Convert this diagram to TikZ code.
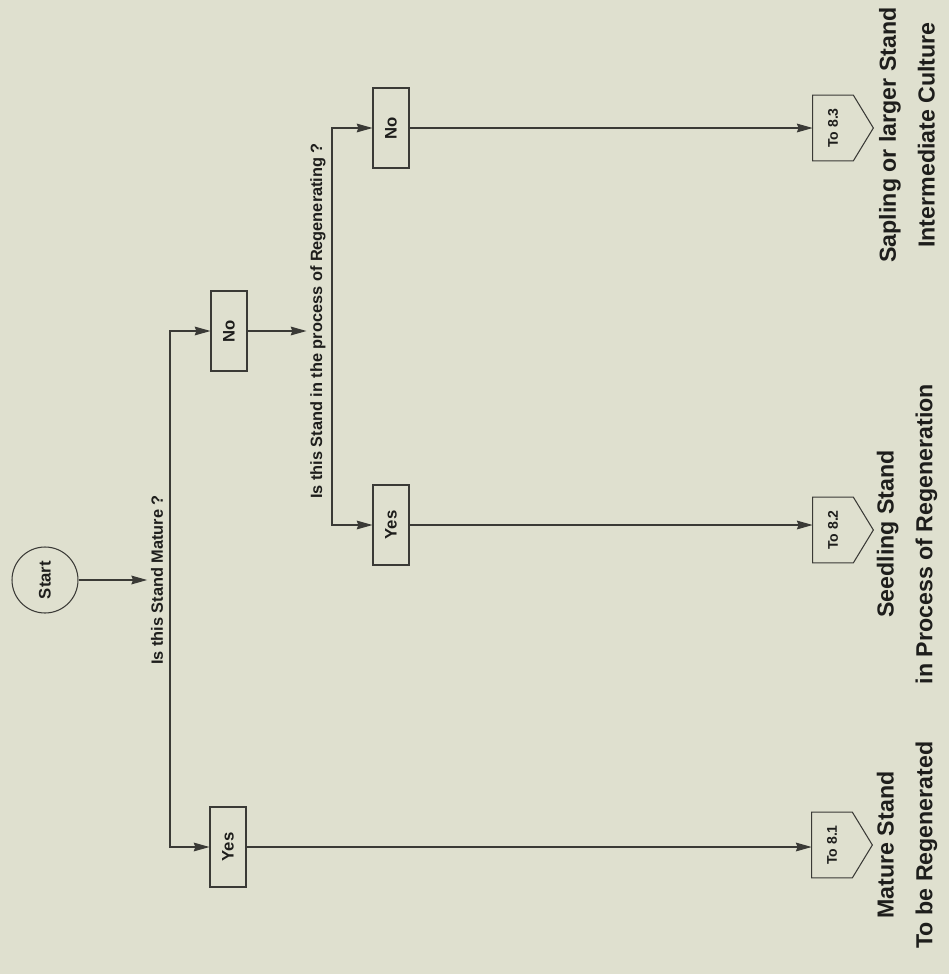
\documentclass[tikz,border=0pt]{standalone}
\usepackage{fontspec}
\setmainfont{Liberation Sans}
\usetikzlibrary{arrows.meta,positioning,calc}
\definecolor{ChartPaper}{HTML}{DFE0CF}
\definecolor{ChartInk}{HTML}{3A3A36}
\definecolor{ChartText}{HTML}{1E1E1C}

\begin{document}
\begin{tikzpicture}[x=0.02cm,y=-0.02cm]
    \tikzset{answerbox/.style={draw=ChartInk,line width=0.6pt,rotate=90,minimum width=1.6cm,minimum height=0.72cm,
      inner sep=0pt,font=\fontsize{9.5}{11}\selectfont\bfseries,text=ChartText},
      question/.style={rotate=90,inner sep=2pt,font=\fontsize{9.3}{11}\selectfont\bfseries,text=ChartText},
      tostage/.style={rotate=90,minimum width=1.3cm,minimum height=0.8cm,inner sep=0pt,
      font=\fontsize{8}{10}\selectfont\bfseries,text=ChartText},
      outcome/.style={rotate=90,align=center,inner sep=0pt,font=\fontsize{13.2}{22}\selectfont\bfseries,text=ChartText},
      flow/.style={-{Stealth[length=9pt,width=5pt,inset=1pt]},draw=ChartInk,line width=0.6pt}}
    \fill[ChartPaper] (0,0) rectangle (949,974);
    \useasboundingbox (0,0) rectangle (949,974);
    % start and first question
    \node[draw=ChartInk,line width=0.6pt,circle,minimum size=1.32cm,inner sep=0pt,rotate=90,
      font=\fontsize{9.5}{11}\selectfont\bfseries,text=ChartText] (start) at (45,580) {Start};
    \node[question] (mature) at (157,580) {Is this Stand Mature ?};
    \coordinate (split1) at (170,580);
    \node[answerbox] (yes1) at (228,847) {Yes};
    \node[answerbox] (no1) at (229,331) {No};
    % second question
    \node[question] (regen) at (318,321) {Is this Stand in the process of Regenerating ?};
    \coordinate (split2) at (332,321);
    \node[answerbox] (yes2) at (391,525) {Yes};
    \node[answerbox] (no2) at (391,128) {No};
    % destinations
    \node[tostage] (to1) at (832,845) {To 8.1};
    \node[tostage] (to2) at (833,530) {To 8.2};
    \node[tostage] (to3) at (833,128) {To 8.3};
    \foreach \t in {to1,to2,to3}
      \draw[ChartInk,line width=0.6pt] (\t.north east) -- (\t.south east) -- ($(\t.south)+(20,0)$)
        -- (\t.south west) -- (\t.north west) -- cycle;
    \node[outcome] (out1) at (907,845) {Mature Stand\\To be Regenerated};
    \node[outcome] (out2) at (907,534) {Seedling Stand\\in Process of Regeneration};
    \node[outcome] (out3) at (907,135) {Sapling or larger Stand\\Intermediate Culture};
    \draw[flow] (start) -- (mature);
    \draw[flow] (split1) |- (no1);
    \draw[flow] (split1) |- (yes1);
    \draw[flow] (no1) -- (no1 -| regen.north);
    \draw[flow] (split2) |- (no2);
    \draw[flow] (split2) |- (yes2);
    \draw[flow] (yes1) -- (yes1 -| to1.north);
    \draw[flow] (yes2) -- (yes2 -| to2.north);
    \draw[flow] (no2) -- (no2 -| to3.north);
  \end{tikzpicture}
\end{document}
